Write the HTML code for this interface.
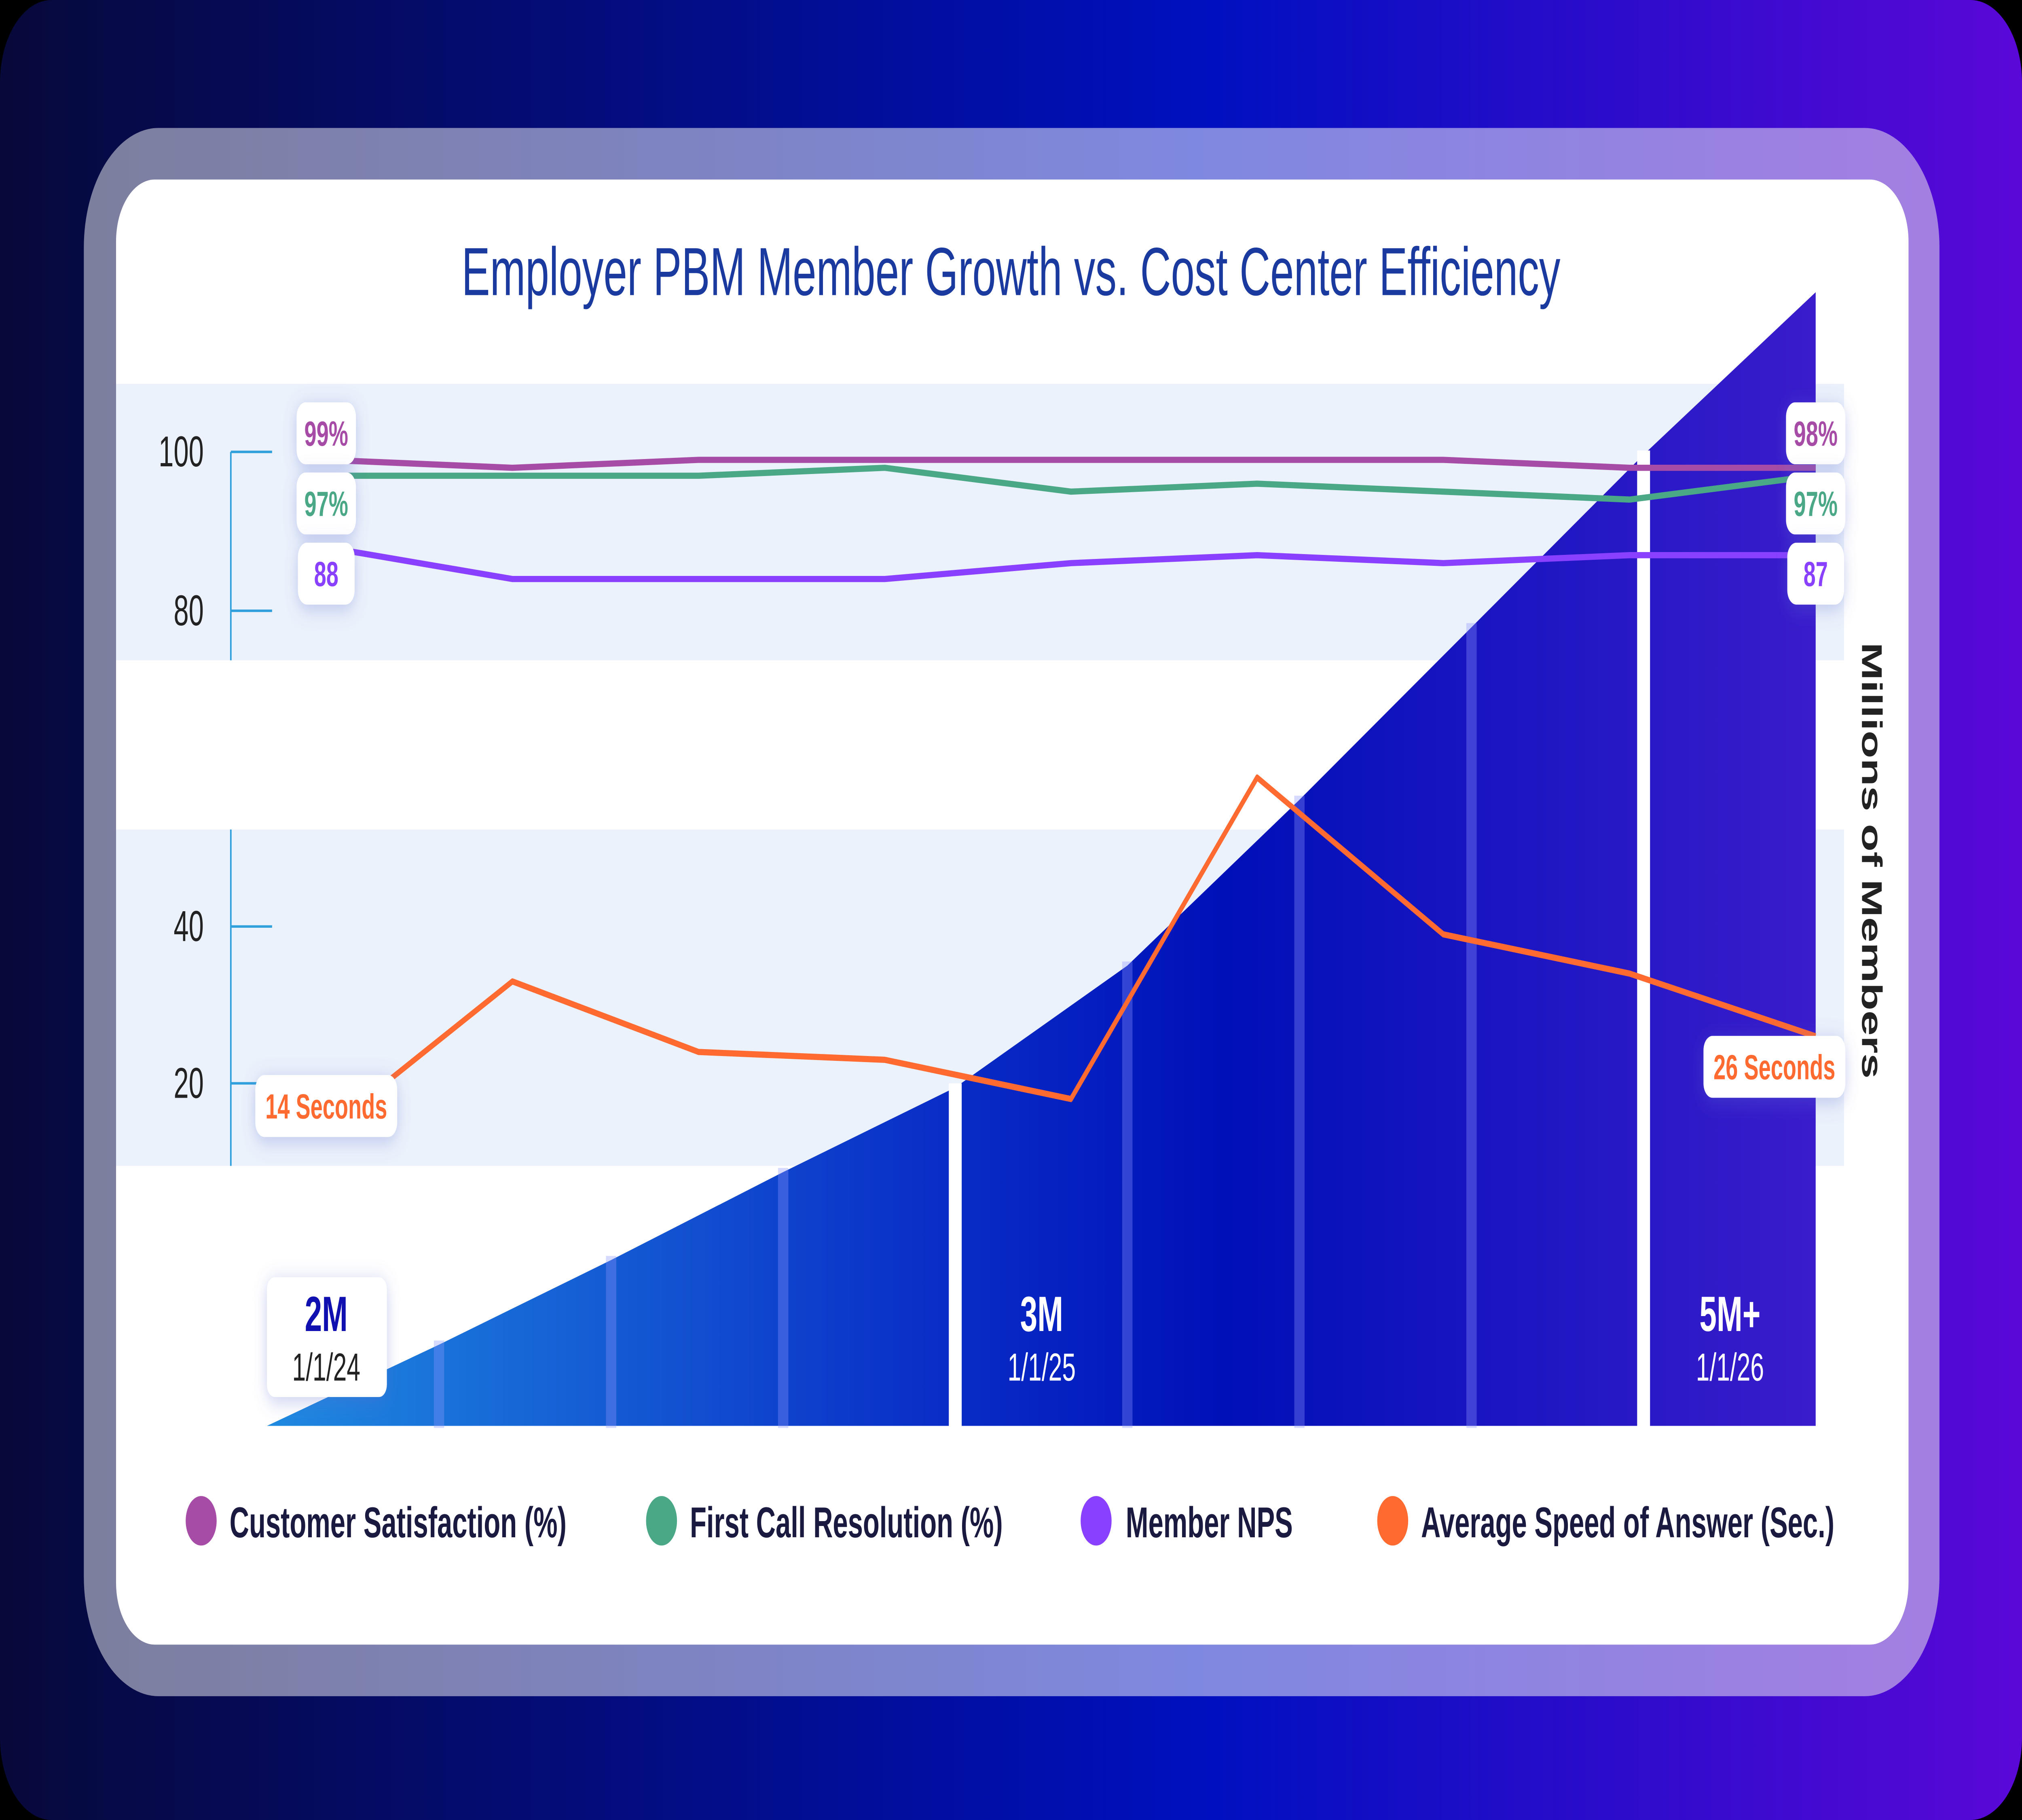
<!DOCTYPE html>
<html><head><meta charset="utf-8">
<style>
html,body{margin:0;padding:0;background:#000;width:100%;height:100%;overflow:hidden;}
svg{display:block;width:100vw;height:100vh;}
text{font-family:"Liberation Sans","DejaVu Sans",sans-serif;}
</style></head>
<body>
<svg id="chart" viewBox="0 0 1568 882" preserveAspectRatio="none" xmlns="http://www.w3.org/2000/svg">
<defs>
<linearGradient id="bg" x1="0" y1="0" x2="1" y2="0">
<stop offset="0" stop-color="#07093a"/><stop offset="0.6" stop-color="#0010c0"/><stop offset="1" stop-color="#5a08d8"/>
</linearGradient>
<linearGradient id="frame" x1="0" y1="0" x2="1" y2="0">
<stop offset="0" stop-color="#7d7f9e"/><stop offset="0.6" stop-color="#7f88e0"/><stop offset="1" stop-color="#a47fe2"/>
</linearGradient>
<linearGradient id="area" gradientUnits="userSpaceOnUse" x1="207" y1="0" x2="1408" y2="0">
<stop offset="0" stop-color="#1f8ae0"/><stop offset="0.42" stop-color="#0a30c8"/><stop offset="0.62" stop-color="#0010b8"/><stop offset="1" stop-color="#3a1ccc"/>
</linearGradient>
<filter id="sh" x="-50%" y="-50%" width="200%" height="200%"><feDropShadow dx="0" dy="2" stdDeviation="5" flood-color="#6070d0" flood-opacity="0.35"/></filter>
</defs>
<rect x="0" y="0" width="1568" height="882" rx="40" fill="url(#bg)"/>
<rect x="65" y="62" width="1439" height="760" rx="58" fill="url(#frame)"/>
<rect x="90" y="87" width="1390" height="710" rx="30" fill="#ffffff"/>
<text x="784" y="143" text-anchor="middle" font-size="33" fill="#1a3aa0">Employer PBM Member Growth vs. Cost Center Efficiency</text>
<rect x="90" y="186" width="1340" height="134" fill="#ecf2fb"/>
<rect x="90" y="402" width="1340" height="163" fill="#ecf2fb"/>
<g id="area-g"></g>
<g id="axes"></g>
<g id="lines"></g>
<g id="labels"></g>
<text transform="translate(1444,417) rotate(90)" text-anchor="middle" font-size="22" font-weight="bold" fill="#222">Millions of Members</text>
<g font-size="21" font-weight="bold" fill="#1a1a40">
<g><circle cx="156" cy="737" r="12" fill="#a64ca6"/><text x="178" y="745">Customer Satisfaction (%)</text></g>
<g><circle cx="513" cy="737" r="12" fill="#4aa886"/><text x="535" y="745">First Call Resolution (%)</text></g>
<g><circle cx="850" cy="737" r="12" fill="#8a40ff"/><text x="873" y="745">Member NPS</text></g>
<g><circle cx="1080" cy="737" r="12" fill="#ff6a30"/><text x="1102" y="745">Average Speed of Answer (Sec.)</text></g>
</g>
</svg>
<script>
const months = ["M1","M2","M3","M4","M5","M6","M7","M8","M9"];
const csat = [99,98,99,99,99,99,99,98,98];
const fcr = [97,97,97,98,95,96,95,94,97];
const nps = [88,84,84,84,86,87,86,87,87];
const asa = [14,33,24,23,18,59,39,34,26];
const members = [2.0,2.24,2.49,2.75,3.0,3.36,3.85,4.36,4.87,5.35];
const memberMarks = [{i:0,big:"2M",small:"1/1/24",box:true},{i:4,big:"3M",small:"1/1/25"},{i:8,big:"5M+",small:"1/1/26"}];
const upperTicks = [100,80];
const lowerTicks = [40,20];

const NS="http://www.w3.org/2000/svg";
function mk(tag,attrs,parent){const e=document.createElementNS(NS,tag);for(const k in attrs)e.setAttribute(k,attrs[k]);parent.appendChild(e);return e;}
const xL=i=>253+i*(1408-253)/(months.length-1);
const yU=v=>219+(100-v)*3.85;
const yL=v=>449+(40-v)*3.8;
const xA=i=>207+i*(1408-207)/(members.length-1);
const yA=m=>691-(m-2)*164;

const ag=document.getElementById('area-g');
let d="M"+xA(0)+",691";
members.forEach((m,i)=>{d+=" L"+xA(i)+","+yA(m);});
d+=" L"+xA(members.length-1)+",691 Z";
const ap=mk('path',{d:d,fill:'url(#area)'},ag);


for(let i=1;i<members.length-1;i++){
  const white=(i===4||i===8);
  const sep=mk('rect',{x:xA(i)-(white?5:4),y:yA(members[i])-2,width:white?10:8,height:691-yA(members[i])+3,fill:white?'#ffffff':'rgba(140,150,255,0.35)'},ag);
  
  
}
memberMarks.forEach(mm=>{
  const cx=xA(mm.i)+(mm.i===0?46:67);
  if(mm.box){const b=mk('rect',{x:cx-46,y:619,width:93,height:58,rx:6,fill:'#fff',filter:'url(#sh)'},ag);
    
    }
  const c=mm.box?'#1010b0':'#fff';
  const t1=mk('text',{x:cx,y:645,'text-anchor':'middle','font-size':24,'font-weight':'bold',fill:c},ag);t1.textContent=mm.big;
  
  
  const t2=mk('text',{x:cx,y:669,'text-anchor':'middle','font-size':19,fill:mm.box?'#222':'#fff'},ag);t2.textContent=mm.small;
  
  
});

const ax=document.getElementById('axes');
const a1=mk('line',{x1:179,y1:219,x2:179,y2:320,stroke:'#30a0dc','stroke-width':1.2},ax);


const a2=mk('line',{x1:179,y1:402,x2:179,y2:565,stroke:'#30a0dc','stroke-width':1.2},ax);


upperTicks.forEach(v=>{
  const l=mk('line',{x1:179,y1:yU(v),x2:211,y2:yU(v),stroke:'#30a0dc','stroke-width':1.2},ax);
  
  
  const t=mk('text',{x:158,y:yU(v)+7,'text-anchor':'end','font-size':21,fill:'#222'},ax);t.textContent=v;
  
  
});
lowerTicks.forEach(v=>{
  const l=mk('line',{x1:179,y1:yL(v),x2:211,y2:yL(v),stroke:'#30a0dc','stroke-width':1.2},ax);
  
  
  const t=mk('text',{x:158,y:yL(v)+7,'text-anchor':'end','font-size':21,fill:'#222'},ax);t.textContent=v;
  
  
});

const lg=document.getElementById('lines');
function line(vals,yf,color,name){
  const p=mk('polyline',{points:vals.map((v,i)=>xL(i)+","+yf(v)).join(" "),fill:'none',stroke:color,'stroke-width':3,'stroke-linejoin':'round'},lg);
  
  
}
line(csat,yU,'#a64ca6','csat-line');
line(fcr,yU,'#4aa886','fcr-line');
line(nps,yU,'#8a40ff','nps-line');
line(asa,yL,'#ff6a30','asa-line');

const lb=document.getElementById('labels');
function label(cx,cy,w,text,color){
  const r=mk('rect',{x:cx-w/2,y:cy-15,width:w,height:30,rx:7,fill:'#fff',filter:'url(#sh)'},lb);
  
  
  const t=mk('text',{x:cx,y:cy+6,'text-anchor':'middle','font-size':17,'font-weight':'bold',fill:color},lb);t.textContent=text;
  
  
}
const n=months.length-1;
label(253,210,46,csat[0]+"%",'#a64ca6');
label(253,244,46,fcr[0]+"%",'#4aa886');
label(253,278,44,String(nps[0]),'#8a40ff');
label(253,536,110,asa[0]+" Seconds",'#ff6a30');
label(1408,210,46,csat[n]+"%",'#a64ca6');
label(1408,244,46,fcr[n]+"%",'#4aa886');
label(1408,278,44,String(nps[n]),'#8a40ff');
label(1376,517,110,asa[n]+" Seconds",'#ff6a30');
</script>
</body></html>
